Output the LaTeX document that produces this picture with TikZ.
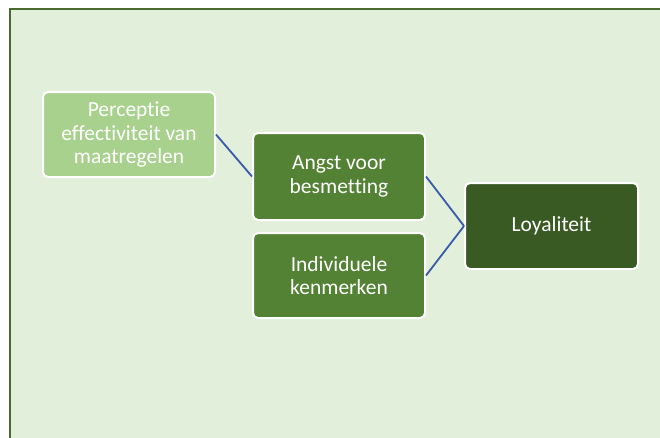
\documentclass[tikz,border=0pt]{standalone}
\usepackage{fontspec}
\setmainfont{Carlito}[Ligatures={NoCommon,NoRare}]
\definecolor{bgfill}{HTML}{E2EFDA}
\definecolor{frameline}{HTML}{4A6B30}
\definecolor{lightbox}{HTML}{A9D18E}
\definecolor{midbox}{HTML}{548235}
\definecolor{darkbox}{HTML}{3A5A24}
\definecolor{linkblue}{HTML}{3A5BA8}
\begin{document}
\begin{tikzpicture}[x=1pt,y=-1pt,
  cbox/.style={rectangle, rounded corners=5pt, draw=white, line width=2pt,
    minimum width=172pt, minimum height=86pt, text=white, align=center,
    font=\fontsize{21.5}{23.5}\selectfont, inner sep=2pt},
  link/.style={draw=linkblue, line width=1.8pt}]
\useasboundingbox (0,0) rectangle (660,437);
\fill[white] (0,0) rectangle (660,437);
\begin{scope}
\clip (0,0) rectangle (660,437);
\draw[fill=bgfill, draw=frameline, line width=2pt] (10,9) rectangle (680,460);
\end{scope}
\node[cbox, fill=lightbox, minimum height=85pt] (perc) at (129,134.5) {Perceptie\\effectiviteit van\\maatregelen};
\node[cbox, fill=midbox, minimum height=87pt] (angst) at (339,176.5) {Angst voor\\besmetting};
\node[cbox, fill=midbox, minimum height=85pt] (indiv) at (339,275.5) {Individuele\\kenmerken};
\node[cbox, fill=darkbox, minimum width=173pt] (loy) at (551.5,226) {Loyaliteit};
\draw[link] (perc.east) -- (angst.west);
\draw[link] (angst.east) -- (loy.west);
\draw[link] (indiv.east) -- (loy.west);
\end{tikzpicture}
\end{document}
